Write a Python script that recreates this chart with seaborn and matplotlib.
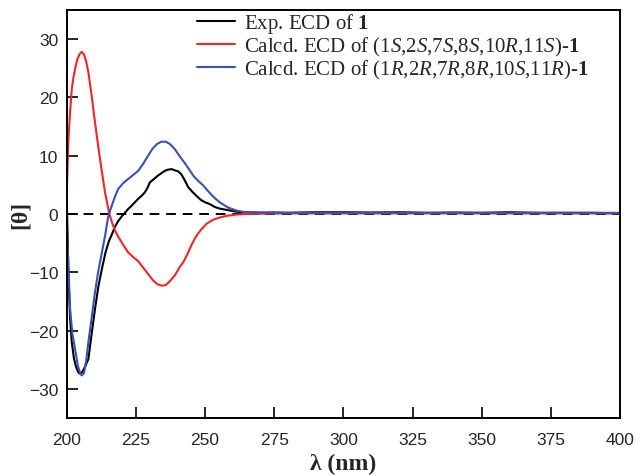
import matplotlib
matplotlib.use("Agg")
import matplotlib.pyplot as plt
import seaborn as sns
import pandas as pd

# wavelengths (nm) and ellipticity
exp_x = [200, 200.6, 201.2, 201.8, 202.6, 203.4, 204.2, 204.8, 205.6, 206.6, 207.8,
         209.0, 210.2, 211.4, 212.7, 214.0, 215.2, 216.3, 217.4, 218.6, 219.9, 221.0,
         222.2, 223.4, 224.6, 225.8, 227.0, 228.2, 229.2, 230.0, 231.5, 233.0, 234.2,
         235.4, 236.6, 237.9, 239.0, 240.3, 241.4, 242.4, 243.9, 245.4, 246.9, 248.5,
         250.0, 251.7, 253.5, 255.5, 257.8, 260.0, 262.6, 266, 270, 275, 280, 290,
         300, 310, 320, 330, 340, 350, 360, 370, 380, 390, 400]
exp_y = [2.6, -10.6, -18.0, -22.0, -24.8, -26.3, -27.2, -27.4, -27.1, -26.2, -24.9,
         -20.5, -16.3, -12.5, -9.4, -6.6, -4.7, -3.5, -2.2, -1.2, -0.4, 0.2,
         0.86, 1.4, 2.0, 2.6, 3.1, 3.7, 4.5, 5.4, 6.0, 6.6, 7.0,
         7.4, 7.6, 7.7, 7.5, 7.3, 6.8, 6.0, 4.6, 3.8, 3.1, 2.4,
         2.0, 1.7, 1.2, 0.9, 0.7, 0.5, 0.3, 0.25, 0.2, 0.25, 0.2, 0.3,
         0.3, 0.25, 0.3, 0.2, 0.25, 0.2, 0.3, 0.2, 0.2, 0.2, 0.1]

ss_x = [200, 200.6, 201.2, 201.8, 202.4, 203.0, 203.8, 204.6, 205.4, 206.2, 207.0,
        207.8, 209.0, 210.2, 211.4, 212.7, 213.9, 215.4, 216.6, 217.6, 218.6, 220.4,
        222.2, 224.0, 225.8, 227.6, 229.4, 231.0, 232.6, 234.2, 235.8, 237.3, 239.1,
        240.7, 242.2, 243.5, 245.2, 246.9, 248.7, 250.5, 252.8, 255.3, 258, 261.4,
        265, 270, 280, 300, 325, 350, 375, 400]
ss_y = [3.7, 12.9, 17.5, 21.4, 23.4, 24.9, 26.5, 27.4, 27.8, 27.4, 26.2,
        24.3, 20.3, 15.7, 11.5, 7.2, 3.5, 0.0, -1.8, -3.0, -3.9, -5.3,
        -6.6, -7.4, -8.1, -9.2, -10.3, -11.3, -12.0, -12.3, -12.2, -11.5, -10.5,
        -9.2, -8.2, -7.0, -5.2, -3.7, -2.6, -1.7, -1.0, -0.6, -0.3, -0.1,
        0.0, 0.05, 0.1, 0.1, 0.1, 0.1, 0.1, 0.1]

rr_x = [200, 200.6, 201.2, 202.0, 203.0, 204.0, 204.8, 205.4, 206.2, 207.0, 207.8,
        209.0, 210.2, 211.4, 212.7, 214.0, 214.9, 215.8, 216.7, 217.6, 218.6, 220.4,
        222.2, 224.0, 225.8, 227.6, 229.4, 231.0, 232.6, 234.2, 235.8, 237.3, 239.1,
        240.8, 242.4, 244.0, 246.0, 247.7, 249.3, 251.3, 253.3, 255.3, 258.3, 261.4,
        264, 267.4, 275, 300, 325, 350, 375, 400]
rr_y = [-1.0, -9.0, -16.3, -20.5, -23.2, -26.0, -27.3, -27.7, -27.3, -25.3, -22.0,
        -17.8, -13.4, -9.8, -6.6, -3.3, -0.6, 0.8, 2.0, 3.2, 4.3, 5.3,
        6.0, 6.7, 7.4, 8.6, 10.0, 11.2, 12.0, 12.4, 12.4, 12.0, 11.1,
        9.9, 8.9, 7.8, 6.4, 5.6, 4.9, 3.8, 2.8, 2.0, 1.1, 0.57,
        0.35, 0.3, 0.2, 0.2, 0.2, 0.2, 0.2, 0.2]

labels = [r"Exp. ECD of $\mathbf{1}$",
          r"Calcd. ECD of (1$\mathit{S}$,2$\mathit{S}$,7$\mathit{S}$,8$\mathit{S}$,10$\mathit{R}$,11$\mathit{S}$)-$\mathbf{1}$",
          r"Calcd. ECD of (1$\mathit{R}$,2$\mathit{R}$,7$\mathit{R}$,8$\mathit{R}$,10$\mathit{S}$,11$\mathit{R}$)-$\mathbf{1}$"]
colors = ["black", "#f42424", "#3a4fb4"]

df = pd.concat([
    pd.DataFrame({"wl": exp_x, "cd": exp_y, "series": labels[0]}),
    pd.DataFrame({"wl": ss_x, "cd": ss_y, "series": labels[1]}),
    pd.DataFrame({"wl": rr_x, "cd": rr_y, "series": labels[2]}),
])

sns.set_style("ticks")
plt.rcParams["font.family"] = ["Liberation Sans", "DejaVu Sans"]
plt.rcParams["mathtext.fontset"] = "custom"
plt.rcParams["mathtext.rm"] = "Liberation Serif"
plt.rcParams["mathtext.it"] = "Liberation Serif:italic"
plt.rcParams["mathtext.bf"] = "Liberation Serif:bold"

fig = plt.figure(figsize=(6.36, 4.77), dpi=100)
ax = fig.add_axes([0.105, 0.1216, 0.87, 0.8554])

ax.axhline(0, color="black", ls=(0, (5, 3.5)), lw=1.4, zorder=1)
sns.lineplot(data=df, x="wl", y="cd", hue="series", hue_order=labels,
             palette=colors, linewidth=1.5, estimator=None, sort=False, ax=ax)

ax.set_xlim(200, 400)
ax.set_ylim(-35, 35)
ax.set_xticks(range(200, 401, 25))
ax.set_yticks([-30, -20, -10, 0, 10, 20, 30])
ax.tick_params(direction="in", length=8, width=1.4, labelsize=12.5)
ax.tick_params(axis="x", pad=10)
ax.tick_params(axis="y", pad=6)
for s in ax.spines.values():
    s.set_linewidth(1.4)
    s.set_color("black")

ax.set_xlabel("λ (nm)", family="Liberation Serif", weight="bold", fontsize=17, labelpad=4)
ax.set_ylabel("[θ]", family="Liberation Serif", weight="bold", fontsize=17)
ax.yaxis.set_label_coords(-0.066, 0.5)

h, l = ax.get_legend_handles_labels()
leg = ax.legend(h, l, loc="upper left", bbox_to_anchor=(0.235, 0.997), frameon=False,
                prop={"family": "Liberation Serif", "size": 15}, handlelength=1.85,
                handletextpad=0.4, labelspacing=0.0, borderaxespad=0, borderpad=0)

fig.savefig("out.png", dpi=100)
